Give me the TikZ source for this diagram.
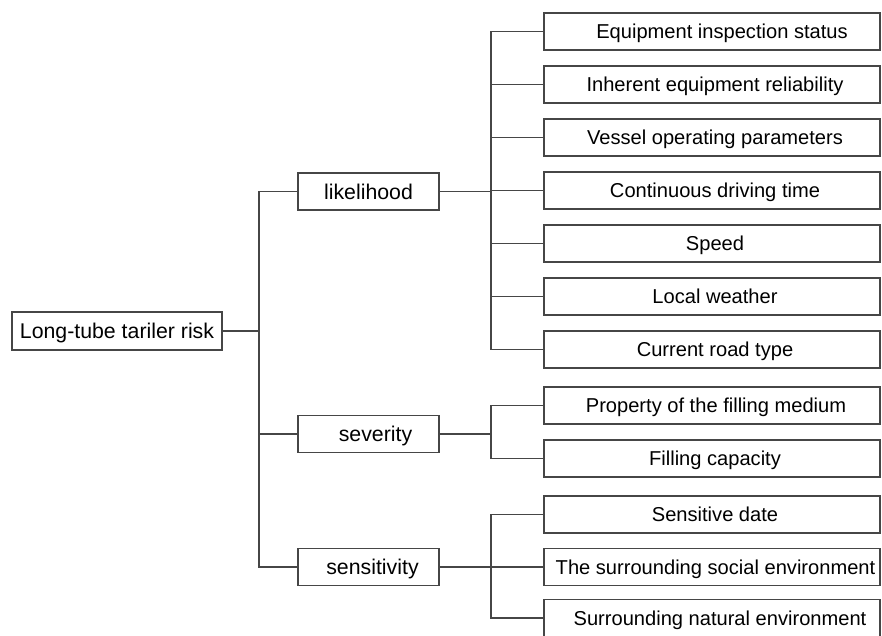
\documentclass[tikz,border=0pt]{standalone}
\usepackage{fontspec}
\setmainfont{Liberation Sans}
\definecolor{linegray}{RGB}{70,70,70}
\begin{document}
\begin{tikzpicture}[x=1pt,y=-1pt,
  box/.style={draw=linegray,line width=1.4pt,inner sep=0pt,anchor=center,text depth=0pt},
  tshift/.style={execute at begin node={\hspace*{#1}}},
  rootbox/.style={box,font=\fontsize{21.3}{25}\selectfont,text height=15.2pt,minimum width=210pt,minimum height=38pt},
  midbox/.style={box,font=\fontsize{21.3}{25}\selectfont,text height=15.2pt,minimum width=141pt,minimum height=37pt},
  leafbox/.style={box,font=\fontsize{20.1}{24}\selectfont,text height=14.4pt,minimum width=336pt,minimum height=37pt,tshift=6pt},
  conn/.style={draw=linegray,line width=1.3pt}]
\useasboundingbox (0,0) rectangle (882,635);
\node[rootbox] (root) at (117,331) {Long-tube tariler risk};
\node[midbox] (lik) at (368.5,191.5) {likelihood};
\node[midbox,tshift=14pt] (sev) at (368.5,434) {severity};
\node[midbox,tshift=8pt] (sen) at (368.5,567) {sensitivity};
\node[leafbox,tshift=14pt] (l1) at (712,31.5) {Equipment inspection status};
\node[leafbox] (l2) at (712,84.5) {Inherent equipment reliability};
\node[leafbox] (l3) at (712,137.5) {Vessel operating parameters};
\node[leafbox] (l4) at (712,190.5) {Continuous driving time};
\node[leafbox] (l5) at (712,243.5) {Speed};
\node[leafbox] (l6) at (712,296.5) {Local weather};
\node[leafbox] (l7) at (712,349.5) {Current road type};
\node[leafbox,tshift=2pt] (s1) at (712,405.5) {Property of the filling medium};
\node[leafbox] (s2) at (712,458.5) {Filling capacity};
\node[leafbox] (n1) at (712,514.5) {Sensitive date};
\node[leafbox,tshift=1pt] (n2) at (712,567) {The surrounding social environment};
\node[leafbox,tshift=10pt] (n3) at (712,618) {Surrounding natural environment};
\coordinate (j0) at (259,331);
\coordinate (j1) at (491,191.5);
\coordinate (j2) at (491,434);
\coordinate (j3) at (491,567);
\draw[conn] (root.east) -- (j0);
\foreach \c in {lik,sev,sen} \draw[conn] (j0) |- (\c.west);
\draw[conn] (lik.east) -- (j1);
\foreach \c in {l1,l2,l3,l4,l5,l6,l7} \draw[conn] (j1) |- (\c.west);
\draw[conn] (sev.east) -- (j2);
\foreach \c in {s1,s2} \draw[conn] (j2) |- (\c.west);
\draw[conn] (sen.east) -- (j3);
\foreach \c in {n1,n2,n3} \draw[conn] (j3) |- (\c.west);
\end{tikzpicture}
\end{document}
